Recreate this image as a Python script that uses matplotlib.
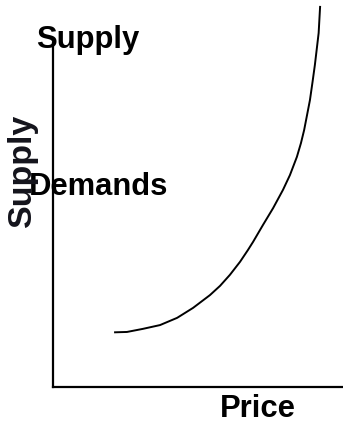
import matplotlib.pyplot as plt

# supply curve (price, supply)
price = [2.14, 2.55, 3.10, 3.69, 4.28, 4.83, 5.41, 5.76, 6.10, 6.45, 6.72, 6.90, 7.24, 7.59,
         7.93, 8.17, 8.41, 8.55, 8.66, 8.86, 8.95, 9.03, 9.10, 9.16, 9.21]
supply = [1.59, 1.60, 1.69, 1.80, 2.01, 2.30, 2.67, 2.94, 3.26, 3.64, 3.98, 4.22, 4.71, 5.20,
          5.73, 6.16, 6.69, 7.09, 7.47, 8.34, 8.87, 9.36, 9.86, 10.29, 11.05]

title = "Supply"
curve_label = "Demands"
x_label = "Price"
y_label = "Supply"

plt.rcParams['font.family'] = ['Liberation Sans', 'DejaVu Sans']

W, H = 343, 424
fig = plt.figure(figsize=(W / 100, H / 100), dpi=100)
ax = fig.add_axes([53 / W, (H - 387) / H, 290 / W, 344 / H])

ax.plot(price, supply, color='black', lw=1.4, clip_on=False, solid_joinstyle='round')

ax.set_xlim(0, 10)
ax.set_ylim(0, 10)
for s in ['top', 'right']:
    ax.spines[s].set_visible(False)
for s in ['left', 'bottom']:
    ax.spines[s].set_linewidth(1.6)
ax.set_xticks([])
ax.set_yticks([])
ax.patch.set_alpha(0)

fs = 22.3
fig.text(36 / W, 1 - 48 / H, title, fontsize=fs, fontweight='bold', ha='left', va='baseline')
fig.text(29 / W, 1 - 195 / H, curve_label, fontsize=fs, fontweight='bold', ha='left', va='baseline')
fig.text(220 / W, 1 - 417 / H, x_label, fontsize=fs, fontweight='bold', ha='left', va='baseline')
fig.text(22 / W, 1 - 170 / H, y_label, fontsize=24.5, fontweight='bold', color='#14141c',
         rotation=90, ha='center', va='center')

fig.savefig('out.png', dpi=100)
